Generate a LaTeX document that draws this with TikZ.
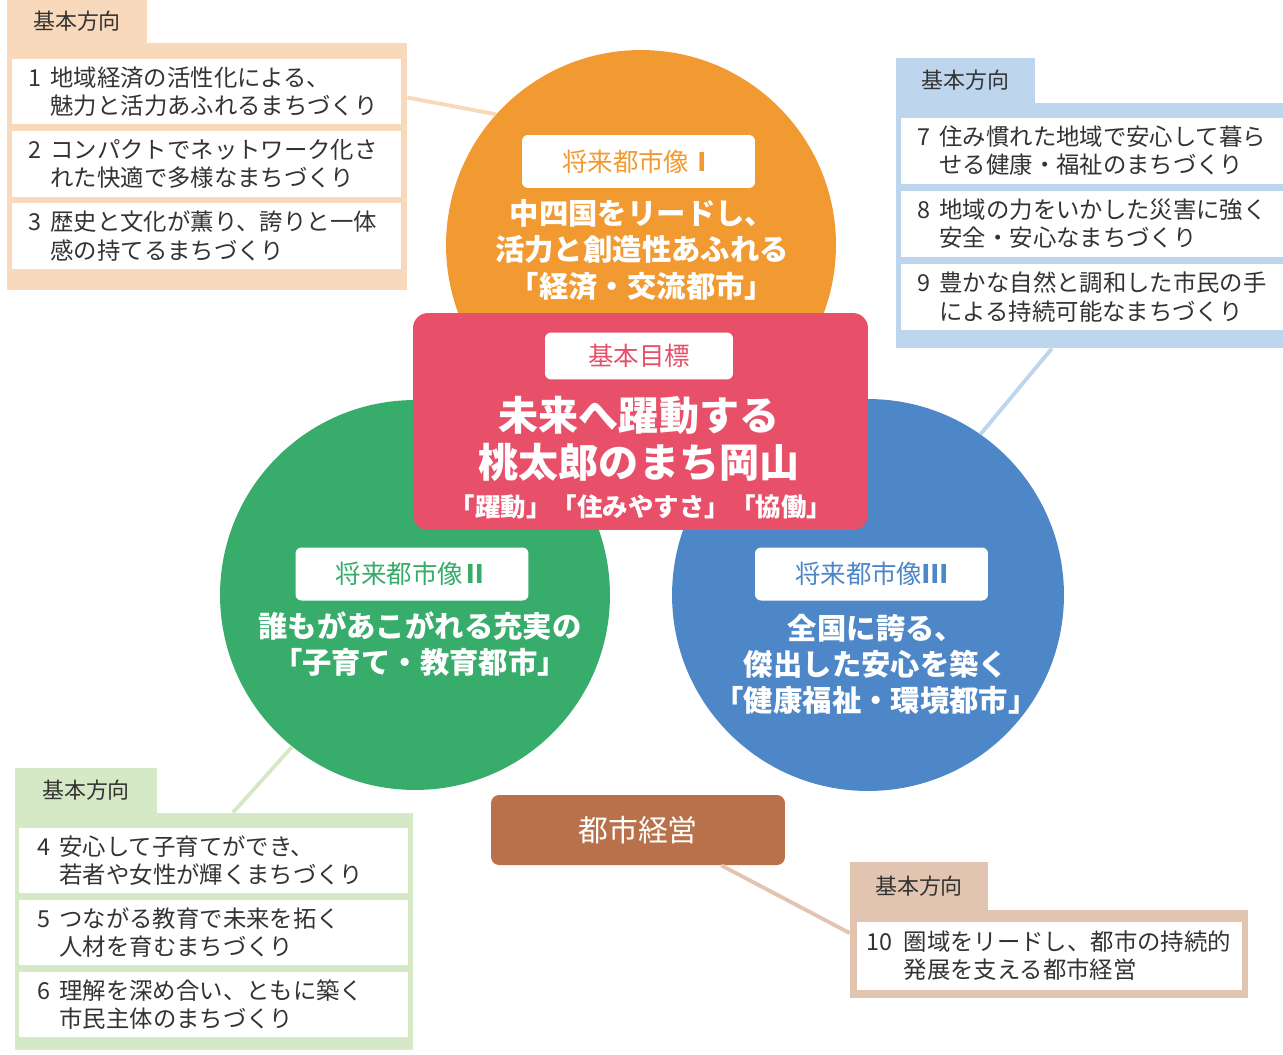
\documentclass[tikz,border=0pt]{standalone}
\usepackage{fontspec}
\setmainfont{Noto Sans CJK JP}
\definecolor{visorange}{HTML}{F19A32}
\definecolor{visgreen}{HTML}{37AC6B}
\definecolor{visblue}{HTML}{4E87C7}
\definecolor{goalpink}{HTML}{E8506A}
\definecolor{mgmtbrown}{HTML}{B9714B}
\definecolor{peachbox}{HTML}{F8D9BB}
\definecolor{skybox}{HTML}{BDD6EE}
\definecolor{mintbox}{HTML}{D6E9C6}
\definecolor{tanbox}{HTML}{E2C5B0}
\definecolor{listgray}{HTML}{333333}
\newcommand\diritem[4][0.95em]{\makebox[#1][l]{#2}#3\\\hspace*{#1}#4}
\begin{document}
\begin{tikzpicture}[x=0.02cm,y=-0.02cm,
    visioncirc/.style={circle,minimum size=7.8cm,inner sep=0pt},
    whitetag/.style={fill=white,rounded corners=0.12cm,minimum width=4.66cm,minimum height=1.06cm,inner sep=0pt,font=\fontsize{14.5}{17}\selectfont},
    circtext/.style={text=white,align=center,inner sep=0pt,font=\fontsize{16.7}{20.5}\selectfont\bfseries},
    tabbox/.style={minimum width=2.8cm,minimum height=0.9cm,inner sep=0pt,text=listgray,font=\fontsize{12.5}{15}\selectfont},
    outerbox/.style={minimum width=8cm,inner sep=0pt},
    rowbox/.style={fill=white,minimum width=7.78cm,minimum height=1.32cm,inner sep=0pt},
    rowtext/.style={anchor=west,align=left,inner sep=0pt,text=listgray,font=\fontsize{13.3}{16}\selectfont},
    linkline/.style={line width=2.2pt}]
  \useasboundingbox (0,0) rectangle (1283,1054);

  % three city visions
  \node[visioncirc,fill=visorange] (vision1) at (641,245) {};
  \node[visioncirc,fill=visgreen] (vision2) at (415,595) {};
  \node[visioncirc,fill=visblue,minimum size=7.84cm] (vision3) at (868,595) {};

  \node[whitetag,text=visorange] (vision1tag) at (638.5,161.5) {将来都市像\textbf{Ⅰ}};
  \node[circtext] (vision1text) at (642,250) {中四国をリードし、\\活力と創造性あふれる\\「経済・交流都市」};
  \node[whitetag,text=visgreen] (vision2tag) at (412,574) {将来都市像\textbf{Ⅱ}};
  \node[circtext] (vision2text) at (420,644) {誰もがあこがれる充実の\\「子育て・教育都市」};
  \node[whitetag,text=visblue] (vision3tag) at (871.5,574) {将来都市像\textbf{Ⅲ}};
  \node[circtext] (vision3text) at (876,664) {全国に誇る、\\傑出した安心を築く\\「健康福祉・環境都市」};

  % basic goal
  \node[fill=goalpink,rounded corners=0.3cm,minimum width=9.1cm,minimum height=4.34cm] (goal) at (640.5,421.5) {};
  \node[whitetag,text=goalpink,minimum width=3.76cm,minimum height=0.94cm] (goaltag) at (639,356) {基本目標};
  \node[circtext,font=\fontsize{22.8}{26.7}\selectfont\bfseries] (goalmain) at (639,438.5) {未来へ躍動する\\桃太郎のまち岡山};
  \node[circtext,font=\fontsize{14.5}{17}\selectfont\bfseries] (goalsub) at (641,507) {「躍動」「住みやすさ」「協働」};

  % city management
  \node[fill=mgmtbrown,rounded corners=0.16cm,minimum width=5.88cm,minimum height=1.4cm,text=white,font=\fontsize{17}{20}\selectfont] (mgmt) at (638,830) {都市経営};

  % basic directions 1-3
  \node[tabbox,fill=peachbox] (dirtab1) at (77,21.5) {基本方向};
  \node[outerbox,fill=peachbox,minimum height=4.94cm] (dirone) at (207,166.5) {};
  \node[rowbox] (row1) at (206.5,91.5) {};
  \node[rowbox] (row2) at (206.5,164) {};
  \node[rowbox] (row3) at (206.5,236) {};
  \node[rowtext] at (28,91.5) {\diritem{1}{地域経済の活性化による、}{魅力と活力あふれるまちづくり}};
  \node[rowtext] at (28,164) {\diritem{2}{コンパクトでネットワーク化さ}{れた快適で多様なまちづくり}};
  \node[rowtext] at (28,236) {\diritem{3}{歴史と文化が薫り、誇りと一体}{感の持てるまちづくり}};

  % basic directions 7-9
  \node[tabbox,fill=skybox,minimum width=2.78cm] (dirtab7) at (965.5,80.5) {基本方向};
  \node[outerbox,fill=skybox,minimum width=7.74cm,minimum height=4.9cm] (dirseven) at (1089.5,225.5) {};
  \node[rowbox,minimum width=7.64cm] (row7) at (1092,151) {};
  \node[rowbox,minimum width=7.64cm] (row8) at (1092,224) {};
  \node[rowbox,minimum width=7.64cm] (row9) at (1092,297) {};
  \node[rowtext] at (917,151) {\diritem{7}{住み慣れた地域で安心して暮ら}{せる健康・福祉のまちづくり}};
  \node[rowtext] at (917,224) {\diritem{8}{地域の力をいかした災害に強く}{安全・安心なまちづくり}};
  \node[rowtext] at (917,297) {\diritem{9}{豊かな自然と調和した市民の手}{による持続可能なまちづくり}};

  % basic directions 4-6
  \node[tabbox,fill=mintbox,minimum width=2.84cm] (dirtab4) at (86,790.5) {基本方向};
  \node[outerbox,fill=mintbox,minimum width=7.96cm,minimum height=4.74cm] (dirfour) at (214,931.5) {};
  \node[rowbox,minimum height=1.3cm] (row4) at (213.5,860.5) {};
  \node[rowbox,minimum height=1.3cm] (row5) at (213.5,932.5) {};
  \node[rowbox,minimum height=1.3cm] (row6) at (213.5,1004.5) {};
  \node[rowtext] at (37,860.5) {\diritem{4}{安心して子育てができ、}{若者や女性が輝くまちづくり}};
  \node[rowtext] at (37,932.5) {\diritem{5}{つながる教育で未来を拓く}{人材を育むまちづくり}};
  \node[rowtext] at (37,1004.5) {\diritem{6}{理解を深め合い、ともに築く}{市民主体のまちづくり}};

  % basic direction 10
  \node[tabbox,fill=tanbox,minimum width=2.76cm,minimum height=0.96cm] (dirtab10) at (919,886) {基本方向};
  \node[outerbox,fill=tanbox,minimum width=7.96cm,minimum height=1.76cm] (dirten) at (1049,954) {};
  \node[rowbox,minimum width=7.7cm,minimum height=1.36cm] (row10) at (1049.5,956) {};
  \node[rowtext] at (866,956) {\diritem[1.6em]{10}{圏域をリードし、都市の持続的}{発展を支える都市経営}};

  % connectors
  \draw[linkline,peachbox] (dirone.19) -- (vision1.138);
  \draw[linkline,mintbox] (dirfour.81) -- (vision2.231);
  \draw[linkline,skybox] (dirseven.253) -- (vision3.55);
  \draw[linkline,tanbox] (mgmt.-23) -- (dirten.174);
\end{tikzpicture}
\end{document}
